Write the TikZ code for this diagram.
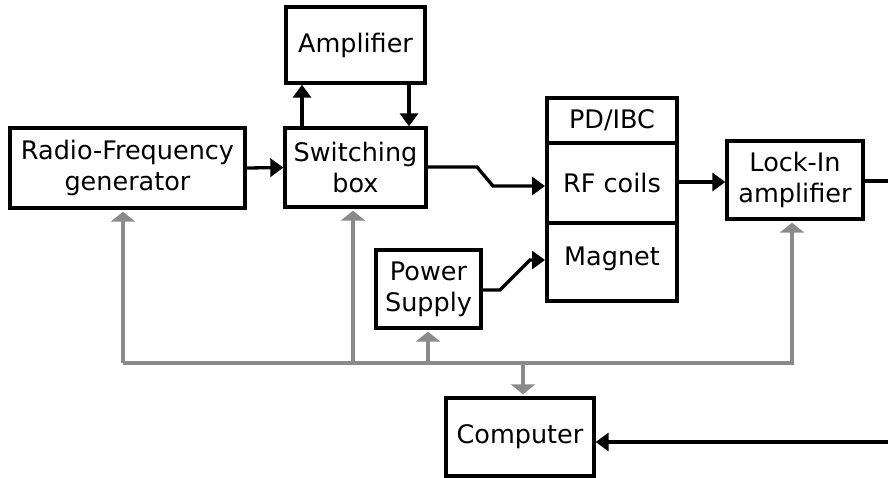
\documentclass[tikz,border=0pt]{standalone}
\usepackage{fontspec}
\setmainfont{DejaVu Sans}
\usetikzlibrary{arrows.meta}
\definecolor{busgray}{RGB}{138,138,138}
\tikzset{
  box/.style={draw, line width=3.3pt, inner sep=0pt, align=center,
    font=\fontsize{25.5}{31}\selectfont},
  pdbox/.style={box, line width=4pt, minimum width=130pt},
  arr/.style={line width=3.3pt, -{Triangle[length=13pt,width=18pt]}},
  wire/.style={line width=3.3pt},
  gline/.style={draw=busgray, line width=3.3pt, line join=miter},
  garr/.style={gline, -{Triangle[length=10pt,width=24pt,fill=busgray]}, shorten >=2pt},
}
\begin{document}
\begin{tikzpicture}[x=1pt,y=-1pt]
\useasboundingbox (0,0) rectangle (888,477);
% boxes
\node[box, minimum width=235pt, minimum height=80pt] (rfgen) at (127.5,168) {Radio-Frequency\\generator};
\node[box, minimum width=139pt, minimum height=76pt] (amp) at (355.5,45) {Amplifier};
\node[box, minimum width=141pt, minimum height=79pt] (sw) at (355.5,167.5) {Switching\\box};
\node[pdbox, minimum height=45pt] (pd) at (612,120.5) {PD/IBC};
\node[pdbox, minimum height=80pt] (rfc) at (612,183) {RF coils};
\node[pdbox, minimum height=78pt, text depth=12pt] (mag) at (612,262) {Magnet};
\node[box, minimum width=105pt, minimum height=78pt] (ps) at (428.5,289) {Power\\Supply};
\node[box, minimum width=136pt, minimum height=78pt] (lock) at (795,180) {Lock-In\\amplifier};
\node[box, minimum width=148pt, minimum height=78pt] (comp) at (520,437) {Computer};
% helper coordinates
\coordinate (upx) at (302,0);
\coordinate (dnx) at (409,0);
\coordinate (swy) at (0,167);
\coordinate (rfy) at (0,186);
\coordinate (psy) at (0,290);
\coordinate (mgy) at (0,260);
\coordinate (lky) at (0,182);
\coordinate (ro) at (888,181);
\coordinate (ri) at (888,442);
\coordinate (b1) at (123,363);
\coordinate (b2) at (353,363);
\coordinate (b3) at (428,363);
\coordinate (b4) at (523,363);
\coordinate (b5) at (792,363);
% black connectors
\draw[arr] (rfgen.east) -- (sw.west);
\draw[arr] (sw.north -| upx) -- (amp.south -| upx);
\draw[arr] (amp.south -| dnx) -- (sw.north -| dnx);
\draw[arr] (sw.east |- swy) -- (477,167) -- (493,186) -- (rfc.west |- rfy);
\draw[arr] (ps.east |- psy) -- (500,290) -- (530,260) -- (mag.west |- mgy);
\draw[arr] (rfc.east |- lky) -- (lock.west |- lky);
\draw[wire] (lock.east |- ro) -- (ro);
\draw[arr] (ri) -- (comp.east |- ri);
% gray bus
\draw[garr] (b1) -- (b5) -- (lock.south -| b5);
\draw[garr] (b1) -- (rfgen.south -| b1);
\draw[garr] (b2) -- (sw.south -| b2);
\draw[garr] (b3) -- (ps.south -| b3);
\draw[garr] (b4) -- (comp.north -| b4);
\end{tikzpicture}
\end{document}
